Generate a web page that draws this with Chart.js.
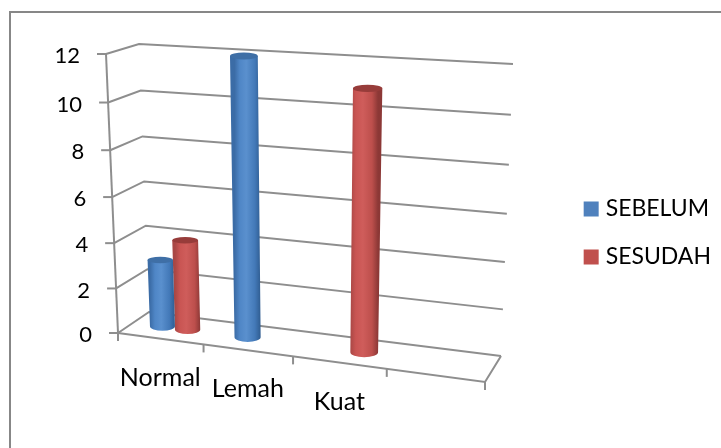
<!DOCTYPE html>
<html><head><meta charset="utf-8">
<style>html,body{margin:0;padding:0;background:#fff}canvas{display:block}</style>
<script src="https://cdn.jsdelivr.net/npm/chart.js@4/dist/chart.umd.min.js"></script>
</head><body><canvas id="c" width="721" height="448"></canvas>
<script>
const categories = ["Normal", "Lemah", "Kuat", ""];
const sebelum = [3, 12, 0, null];
const sesudah = [4, 0, 11, null];
const seriesNames = ["SEBELUM", "SESUDAH"];
const yMax = 12, yStep = 2;

// projection corners of the 3D box
const FL0=[118,333],FR0=[485,382],BL0=[149,312],BR0=[501,356];
const FL1=[106,54],FR1=[497,78],BL1=[139,44],BR1=[513,64];
const warp=(t,k)=>k*t/(1+(k-1)*t);
const lerp=(a,b,t)=>[a[0]+(b[0]-a[0])*t,a[1]+(b[1]-a[1])*t];
function project(u,d,v){
  const uu=warp(u,0.912), vv=warp(v/yMax,0.95);
  const floor=lerp(lerp(FL0,FR0,uu),lerp(BL0,BR0,uu),d);
  const top=lerp(lerp(FL1,FR1,uu),lerp(BL1,BR1,uu),d);
  return lerp(floor,top,vv);
}
const GRID='#8e8e8e';
const box3d={
  id:'box3d',
  beforeDraw(chart){
    const ctx=chart.ctx;
    ctx.save();
    ctx.strokeStyle='#878787';ctx.lineWidth=2;
    ctx.beginPath();ctx.moveTo(10,448);ctx.lineTo(10,12);ctx.lineTo(721,12);ctx.stroke();
    ctx.restore();
  },
  beforeDatasetsDraw(chart){
    const ctx=chart.ctx,y=chart.scales.y,x=chart.scales.x;
    ctx.save();
    ctx.strokeStyle=GRID;ctx.lineWidth=2;ctx.lineJoin='miter';
    const line=pts=>{ctx.beginPath();pts.forEach((p,i)=>i?ctx.lineTo(p[0],p[1]):ctx.moveTo(p[0],p[1]));ctx.stroke();};
    line([project(0,0,0),project(0,0,yMax)]);
    ctx.fillStyle='#000';
    ctx.font='22px Lato';
    y.ticks.forEach(t=>{
      const a=project(0,0,t.value),b=project(0,1,t.value),c=project(1,1,t.value);
      line([a,b,c]);
      line([[a[0]-9,a[1]],a]);
      ctx.textAlign='right';ctx.textBaseline='middle';
      ctx.fillText(String(t.value),a[0]-26,a[1]+2);
    });
    line([project(1,1,0),project(1,0,0),project(0,0,0)]);
    const n=categories.length;
    for(let i=0;i<=n;i++){const p=project(i/n,0,0);line([p,[p[0],p[1]+8]]);}
    ctx.textAlign='center';
    ctx.font='25px Lato';
    x.ticks.forEach((t,i)=>{
      const label=x.getLabelForValue(t.value);
      const p=project((x.getPixelForValue(t.value)-x.left)/x.width,0,0);
      ctx.fillText(label,p[0],p[1]+39);
    });
    ctx.restore();
  },
  beforeDatasetDraw(chart,args){
    const ctx=chart.ctx,x=chart.scales.x,y=chart.scales.y;
    const meta=args.meta, blue=args.index===0;
    const st=blue?['#3b6ca6','#4f86c6','#5a90ce','#4379b8','#2f5c90','#3f6fa6']
                 :['#a94745','#c95553','#cf5d5b','#bd4f4c','#8c3836','#973c3a'];
    meta.data.forEach((el,i)=>{
      const val=args.index===0?sebelum[i]:sesudah[i];
      if(!val)return;
      const u=(el.x-x.left)/x.width, hw=el.width/2/x.width;
      const v=y.getValueForPixel(el.y);
      const bl=project(u-hw,0.5,0),br=project(u+hw,0.5,0),tl=project(u-hw,0.5,v),tr=project(u+hw,0.5,v);
      const rb=(br[0]-bl[0])/2,rt=(tr[0]-tl[0])/2;
      const cb=[(bl[0]+br[0])/2,(bl[1]+br[1])/2],ct=[(tl[0]+tr[0])/2,(tl[1]+tr[1])/2];
      const ryB=rb*0.36,ryT=rt*0.25;
      const g=ctx.createLinearGradient(cb[0]-rb,0,cb[0]+rb,0);
      g.addColorStop(0,st[0]);g.addColorStop(.2,st[1]);g.addColorStop(.45,st[2]);g.addColorStop(.78,st[3]);g.addColorStop(1,st[4]);
      ctx.save();
      ctx.fillStyle=g;
      ctx.beginPath();
      ctx.moveTo(ct[0]-rt,ct[1]);
      ctx.lineTo(cb[0]-rb,cb[1]);
      ctx.ellipse(cb[0],cb[1],rb,ryB,0,Math.PI,0,true);
      ctx.lineTo(ct[0]+rt,ct[1]);
      ctx.closePath();ctx.fill();
      ctx.fillStyle=st[5];
      ctx.beginPath();ctx.ellipse(ct[0],ct[1],rt,ryT,0,0,Math.PI*2);ctx.fill();
      ctx.restore();
    });
    return false;
  }
};
new Chart(document.getElementById('c'),{
  type:'bar',
  data:{labels:categories,datasets:[
    {label:seriesNames[0],data:sebelum,backgroundColor:'#4F81BD',borderWidth:0,categoryPercentage:.6,barPercentage:1},
    {label:seriesNames[1],data:sesudah,backgroundColor:'#C0504D',borderWidth:0,categoryPercentage:.6,barPercentage:1}
  ]},
  options:{
    responsive:false,animation:false,
    layout:{padding:{top:18,right:0}},
    scales:{
      x:{display:false},
      y:{display:false,min:0,max:yMax,ticks:{stepSize:yStep}}
    },
    plugins:{
      tooltip:{enabled:false},
      legend:{position:'right',align:'center',labels:{usePointStyle:true,pointStyle:'rect',boxWidth:6,boxHeight:15,padding:25,color:'#000',font:{family:'Lato',size:23}}}
    }
  },
  plugins:[box3d]
});
</script></body></html>
